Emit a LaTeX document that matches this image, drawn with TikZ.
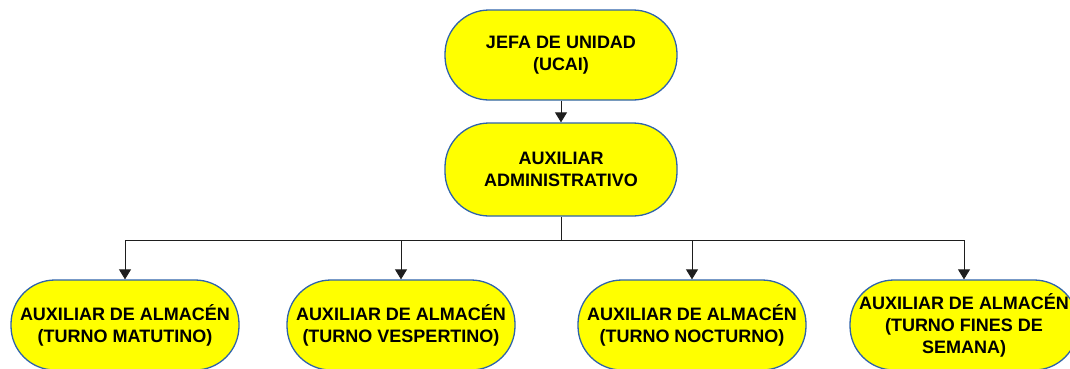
\documentclass[tikz,border=0pt]{standalone}
\usepackage{fontspec}
\setmainfont{Liberation Sans}
\usepackage{tikz}
\usetikzlibrary{shapes.misc}
\usetikzlibrary{arrows,arrows.meta}
\usetikzlibrary{calc}
\definecolor{rand}{RGB}{46, 99, 171}
\definecolor{gelb}{RGB}{255, 255, 0}
\definecolor{linie}{RGB}{30, 30, 30}

\tikzset{
    puesto/.style={draw=rand, fill=gelb, line width=1.3pt, rounded corners=44pt,
        minimum height=90pt, inner sep=0pt, align=center,
        font=\fontsize{18}{22}\selectfont\bfseries},
    jefe/.style={puesto, minimum width=232pt},
    auxiliar/.style={puesto, minimum width=228pt},
    pfeil/.style={linie, line width=0.8pt, -{Triangle[length=10pt, width=12pt]}}
}

\begin{document}
\begin{tikzpicture}[x=1pt, y=-1pt]

    \useasboundingbox (0,0) rectangle (1070,368);

    \node[jefe] (jefa) at (561,55) {JEFA DE UNIDAD\\(UCAI)};
    \node[jefe, minimum height=93pt] (admin) at (561,169.5) {AUXILIAR\\ADMINISTRATIVO};

    \node[auxiliar] (matutino) at (125,325) {AUXILIAR DE ALMAC\'EN\\(TURNO MATUTINO)};
    \node[auxiliar] (vespertino) at (401,325) {AUXILIAR DE ALMAC\'EN\\(TURNO VESPERTINO)};
    \node[auxiliar] (nocturno) at (692,325) {AUXILIAR DE ALMAC\'EN\\(TURNO NOCTURNO)};
    \node[auxiliar] (fines) at (964,325) {AUXILIAR DE ALMAC\'EN\\(TURNO FINES DE\\SEMANA)};

    \coordinate (verteiler) at (561,240);

    \draw[pfeil] (jefa) -- (admin);
    \draw[linie, line width=0.8pt] (admin) -- (verteiler);
    \draw[pfeil] (verteiler) -| (matutino);
    \draw[pfeil] (verteiler) -| (vespertino);
    \draw[pfeil] (verteiler) -| (nocturno);
    \draw[pfeil] (verteiler) -| (fines);

\end{tikzpicture}
\end{document}
